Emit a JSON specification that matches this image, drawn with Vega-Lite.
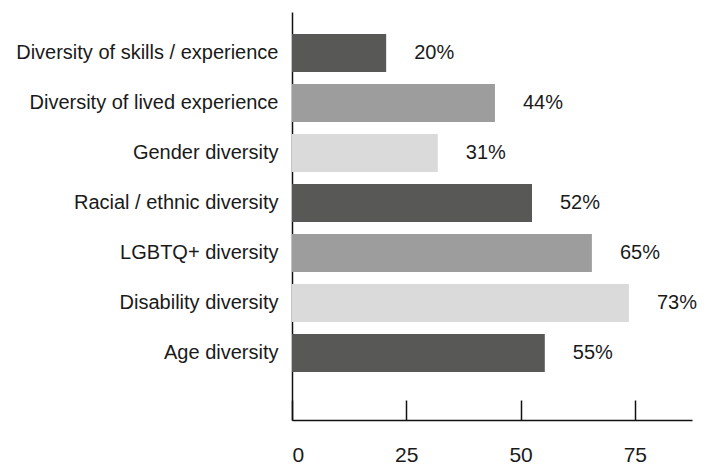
{
  "$schema": "https://vega.github.io/schema/vega-lite/v6.json",
  "width": 400,
  "height": 408,
  "autosize": "none",
  "padding": {"left": 292, "top": 12, "right": 22, "bottom": 46},
  "background": "white",
  "config": {"view": {"stroke": null}, "font": "Liberation Sans"},
  "data": {
    "values": [
      {"category": "Diversity of skills / experience", "value": 20.6, "label": "20%", "shade": "dark"},
      {"category": "Diversity of lived experience", "value": 44.4, "label": "44%", "shade": "mid"},
      {"category": "Gender diversity", "value": 31.9, "label": "31%", "shade": "light"},
      {"category": "Racial / ethnic diversity", "value": 52.5, "label": "52%", "shade": "dark"},
      {"category": "LGBTQ+ diversity", "value": 65.6, "label": "65%", "shade": "mid"},
      {"category": "Disability diversity", "value": 73.7, "label": "73%", "shade": "light"},
      {"category": "Age diversity", "value": 55.3, "label": "55%", "shade": "dark"}
    ]
  },
  "encoding": {
    "y": {
      "field": "category",
      "type": "nominal",
      "sort": null,
      "scale": {"paddingInner": 0.24, "paddingOuter": 0.7, "align": 0.314},
      "axis": {
        "title": null,
        "ticks": false,
        "domainColor": "#111111",
        "domainWidth": 1.5,
        "labelFontSize": 20,
        "labelColor": "#1a1a1a",
        "labelPadding": 14,
        "labelLimit": 400
      }
    },
    "x": {
      "field": "value",
      "type": "quantitative",
      "scale": {"domain": [0, 87.5], "nice": false},
      "axis": {
        "title": null,
        "values": [0, 25, 50, 75],
        "grid": false,
        "domainColor": "#111111",
        "domainWidth": 1.5,
        "tickColor": "#111111",
        "tickWidth": 1.5,
        "tickSize": -20,
        "labelFontSize": 21,
        "labelColor": "#1a1a1a",
        "labelPadding": 44
      }
    }
  },
  "layer": [
    {
      "mark": {"type": "bar"},
      "encoding": {
        "color": {
          "field": "shade",
          "type": "nominal",
          "scale": {"domain": ["dark", "mid", "light"], "range": ["#585856", "#9d9d9d", "#dadada"]},
          "legend": null
        }
      }
    },
    {
      "mark": {"type": "text", "align": "left", "baseline": "middle", "dx": 28, "fontSize": 20, "color": "#1a1a1a"},
      "encoding": {"text": {"field": "label"}}
    }
  ]
}
